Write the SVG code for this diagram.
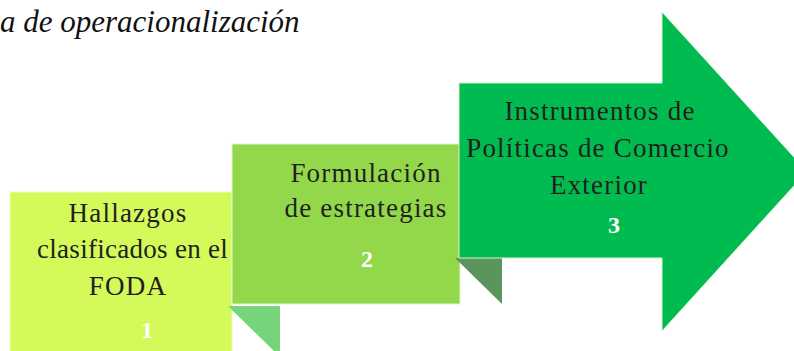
<svg xmlns="http://www.w3.org/2000/svg" width="794" height="351" viewBox="0 0 794 351">
<style>
.t{font-family:'Liberation Serif','DejaVu Serif',serif;font-size:27px;fill:#231f20;letter-spacing:1.2px;text-anchor:middle}
.n{font-family:'Liberation Serif','DejaVu Serif',serif;font-size:24px;font-weight:bold;fill:#ffffff;text-anchor:middle}
.title{font-family:'Liberation Serif','DejaVu Serif',serif;font-size:31px;font-style:italic;fill:#111}
</style>
<rect width="794" height="351" fill="#ffffff"/>
<text class="title" x="0" y="32">a de operacionalización</text>
<g id="node1">
<rect x="10" y="192" width="222" height="170" fill="#d4fa5a" stroke="#eefbc0" stroke-width="1"/>
<polygon points="228,306 280,306 280,351 274,351" fill="#76d57a"/>
<text class="t" x="128" y="222">Hallazgos</text>
<text class="t" x="133" y="258" textLength="192" lengthAdjust="spacing">clasificados en el</text>
<text class="t" x="128" y="295">FODA</text>
<text class="n" x="147" y="338">1</text>
</g>
<g id="node2">
<rect x="232" y="144" width="228" height="160" fill="#92d84a" stroke="#e6f5c8" stroke-width="1"/>
<polygon points="455,258 502,258 502,304" fill="#5a955d"/>
<text class="t" x="366" y="182">Formulación</text>
<text class="t" x="366" y="217">de estrategias</text>
<text class="n" x="367" y="267">2</text>
</g>
<g id="node3">
<polygon points="459,83 662,83 662,12 807,171.5 662,331 662,258 459,258" fill="#00bb4f" stroke="#d8f3d0" stroke-width="1"/>
<text class="t" x="600" y="120">Instrumentos de</text>
<text class="t" x="598" y="157">Políticas de Comercio</text>
<text class="t" x="599" y="194">Exterior</text>
<text class="n" x="614" y="233">3</text>
</g>
<g id="connectors"></g>
</svg>
